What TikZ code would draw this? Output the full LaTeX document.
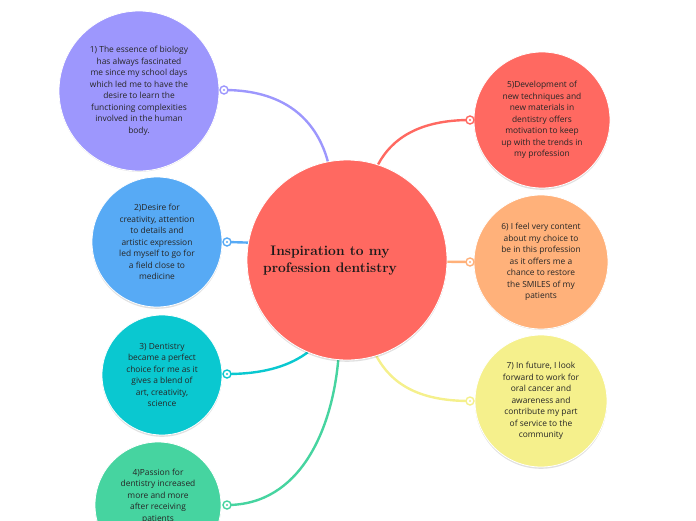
\documentclass[tikz,border=0pt]{standalone}
\usepackage{fontspec}
\setmainfont{Open Sans}
\begin{document}
\begin{tikzpicture}[x=1pt,y=-1pt,
  bub/.style={circle, inner sep=0pt, align=center, text=black!85, font=\fontsize{8.4}{11.5}\selectfont},
  conn/.style={line width=2.4pt},
  ringdot/.style={circle, draw=#1, fill=white, line width=1.4pt, minimum size=8pt, inner sep=0pt,
     path picture={\fill[#1] (path picture bounding box.center) circle (1.1pt);}},
  shad/.style={fill=black, opacity=0.12}
]
\definecolor{cpur}{HTML}{9D97FD}
\definecolor{cblu}{HTML}{57AAF5}
\definecolor{ctea}{HTML}{0AC8D0}
\definecolor{cgrn}{HTML}{46D4A0}
\definecolor{cred}{HTML}{FF6961}
\definecolor{cora}{HTML}{FFB17A}
\definecolor{cyel}{HTML}{F5F08C}
\useasboundingbox (0,0) rectangle (696,520);
\clip (0,0) rectangle (696,520);

% coordinates of connector free ends (dots)
\coordinate (d1) at (224,90);
\coordinate (d2) at (227,242);
\coordinate (d3) at (227,374);
\coordinate (d4) at (227,505);
\coordinate (d5) at (470,120);
\coordinate (d6) at (470,262);
\coordinate (d7) at (470,401);

% central circle geometry node
\path (347,260) node[circle, minimum size=200pt, inner sep=0pt] (cc) {};

% connectors
\draw[conn, cpur] (d1) .. controls (290,90) and (318,125) .. (cc.101);
\draw[conn, cblu] (d2) -- (cc.170);
\draw[conn, ctea] (d3) .. controls (268,374) and (292,364) .. (cc.-113);
\draw[conn, cgrn] (d4) .. controls (300,505) and (332,430) .. (cc.-95);
\draw[conn, cred] (d5) .. controls (420,120) and (392,138) .. (cc.72);
\draw[conn, cora] (d6) -- (cc.-1);
\draw[conn, cyel] (d7) .. controls (420,401) and (392,385) .. (cc.-73);

% shadows
\foreach \x/\y/\r in {347/260/100, 139/90/80, 157/242/65, 162/375/60, 158/505/63, 542/120/68, 541/261/67, 541/401/66}
  \fill[shad] (\x,\y+1.8) circle (\r);

% central node
\node[circle, fill=cred, draw=white, line width=0.8pt, minimum size=200pt, inner sep=0pt] (c0) at (347,260) {};
\node[align=center, font=\fontspec{Latin Modern Roman}\bfseries\fontsize{13.8}{17}\selectfont, text=black!90] (ct) at (330,261) {Inspiration to my\\profession dentistry};

% child nodes
\node[bub, fill=cpur, draw=white, line width=0.8pt, minimum size=160pt] (n1) at (139,91)
  {1) The essence of biology\\has always fascinated\\me since my school days\\which led me to have the\\desire to learn the\\functioning complexities\\involved in the human\\body.};
\node[bub, fill=cblu, draw=white, line width=0.8pt, minimum size=130pt] (n2) at (157,242)
  {2)Desire for\\creativity, attention\\to details and\\artistic expression\\led myself to go for\\a field close to\\medicine};
\node[bub, fill=ctea, draw=white, line width=0.8pt, minimum size=120pt] (n3) at (162,375)
  {3) Dentistry\\became a perfect\\choice for me as it\\gives a blend of\\art, creativity,\\science};
\node[bub, fill=cgrn, draw=white, line width=0.8pt, minimum size=126pt] (n4) at (158,505) {};
\node[bub] (t4) at (158,496)
  {4)Passion for\\dentistry increased\\more and more\\after receiving\\patients};
\node[bub, fill=cred, draw=white, line width=0.8pt, minimum size=136pt] (n5) at (542,120)
  {5)Development of\\new techniques and\\new materials in\\dentistry offers\\motivation to keep\\up with the trends in\\my profession};
\node[bub, fill=cora, draw=white, line width=0.8pt, minimum size=134pt] (n6) at (541,262)
  {6) I feel very content\\about my choice to\\be in this profession\\as it offers me a\\chance to restore\\the SMILES of my\\patients};
\node[bub, fill=cyel, draw=white, line width=0.8pt, minimum size=132pt] (n7) at (541,401)
  {7) In future, I look\\forward to work for\\oral cancer and\\awareness and\\contribute my  part\\of service to the\\community};

% dots
\node[ringdot=cpur] at (d1) {};
\node[ringdot=cblu] at (d2) {};
\node[ringdot=ctea] at (d3) {};
\node[ringdot=cgrn] at (d4) {};
\node[ringdot=cred] at (d5) {};
\node[ringdot=cora] at (d6) {};
\node[ringdot=cyel] at (d7) {};
\end{tikzpicture}
\end{document}
